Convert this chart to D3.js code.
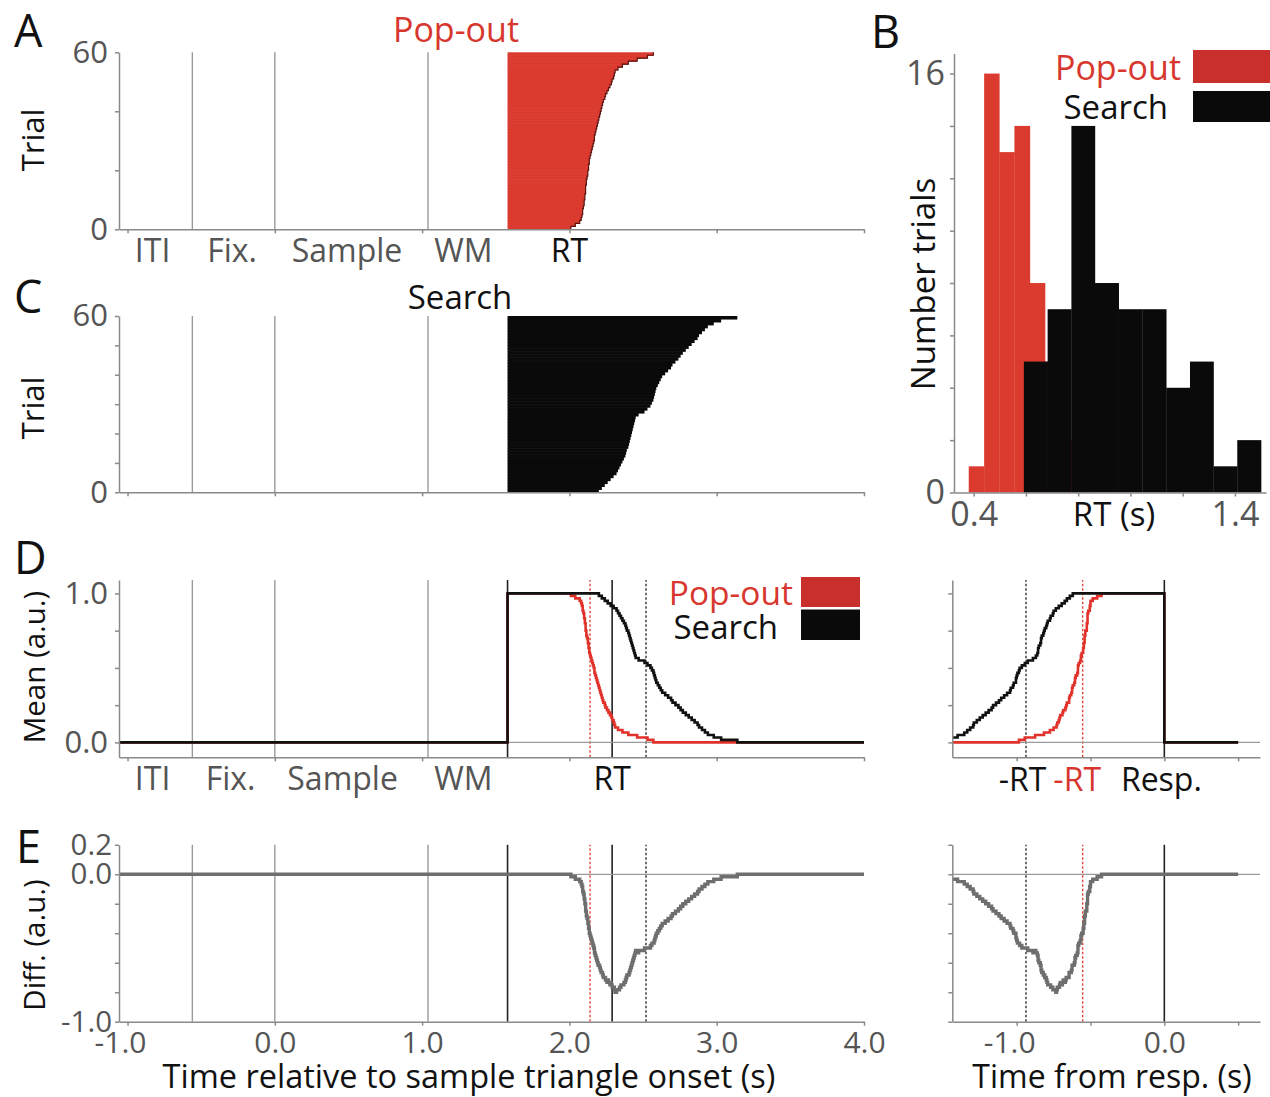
<!DOCTYPE html>
<html><head><meta charset="utf-8">
<script src="https://cdn.jsdelivr.net/npm/d3@7"></script>
<style>
body{margin:0;background:#fff}
svg{display:block}
text{font-family:'Open Sans',sans-serif}
</style>
</head><body>
<svg id="c" width="1270" height="1097"></svg>
<script>
// ---------------- DATA ----------------
// response times (s, relative to sample onset) per trial, sorted
const popEnd = [
 2.01, 2.04, 2.07, 2.08, 2.085, 2.09, 2.09, 2.095, 2.10, 2.10,
 2.105, 2.105, 2.11, 2.11, 2.11, 2.115, 2.115, 2.12, 2.125, 2.125,
 2.13, 2.13, 2.135, 2.135, 2.14, 2.145, 2.15, 2.155, 2.16, 2.165,
 2.17, 2.17, 2.175, 2.18, 2.185, 2.19, 2.195, 2.20, 2.205, 2.21,
 2.215, 2.22, 2.225, 2.23, 2.24, 2.245, 2.255, 2.265, 2.275, 2.285,
 2.29, 2.30, 2.305, 2.31, 2.33, 2.36, 2.40, 2.46, 2.53, 2.57];
const searchEnd = [
 2.20, 2.22, 2.24, 2.26, 2.28, 2.30, 2.32, 2.33, 2.34, 2.35,
 2.36, 2.37, 2.38, 2.385, 2.39, 2.40, 2.405, 2.41, 2.415, 2.42,
 2.425, 2.43, 2.435, 2.44, 2.445, 2.45, 2.47, 2.51, 2.53, 2.55,
 2.56, 2.57, 2.575, 2.58, 2.585, 2.59, 2.60, 2.61, 2.62, 2.63,
 2.65, 2.67, 2.69, 2.70, 2.72, 2.74, 2.755, 2.77, 2.79, 2.81,
 2.83, 2.85, 2.87, 2.88, 2.90, 2.92, 2.94, 2.98, 3.03, 3.14];
const targetOnset = 1.58;
const epochLines = [-0.56, 0.0, 1.04];
const epochLabels = ["ITI", "Fix.", "Sample", "WM", "RT"];
const epochLabelPosA = [-0.83, -0.29, 0.49, 1.28, 2.0];
const epochLabelPosD = [-0.83, -0.30, 0.46, 1.28, 2.29];
const medianPop = 2.14, medianAll = 2.29, medianSearch = 2.52;
const respMedianSearch = -0.937, respMedianPop = -0.553, respTime = 0.0;
const respLabels = ["-RT", "-RT", "Resp."];
const respLabelPos = [-0.96, -0.59, -0.02];
// histogram (panel B)
const popEdges = [0.381, 0.440, 0.498, 0.556, 0.615, 0.673, 0.731, 0.790, 0.848];
const popCounts = [1, 16, 13, 14, 8, 5, 2, 1];
const searchEdges = [0.592, 0.683, 0.774, 0.864, 0.955, 1.046, 1.137, 1.228, 1.318, 1.409, 1.500];
const searchCounts = [5, 7, 14, 8, 7, 7, 4, 5, 1, 2];
// ticks
const mainTicks = [-1, 0, 1, 2, 3, 4];
const mainTickLabels = ["-1.0", "0.0", "1.0", "2.0", "3.0", "4.0"];
const respTicks = [-1.0, -0.5, 0.0, 0.5];
const respTickLabels = ["-1.0", "", "0.0", ""];
const trialTicksA = [0, 20, 40, 60], trialLabelsA = ["0", "", "", "60"];
const trialTicksC = [0, 10, 20, 30, 40, 50, 60], trialLabelsC = ["0", "", "", "", "", "", "60"];
const meanTicks = [0, 0.25, 0.5, 0.75, 1.0], meanLabels = ["0.0", "", "", "", "1.0"];
const diffTicks = [-1.0, -0.8, -0.6, -0.4, -0.2, 0.0, 0.2], diffLabels = ["-1.0", "", "", "", "", "0.0", "0.2"];
const histXTicks = [0.4, 0.6, 0.8, 1.0, 1.2, 1.4], histXLabels = ["0.4", "", "", "", "", "1.4"];
const histYTicks = [0, 2, 4, 6, 8, 10, 12, 14, 16], histYLabels = ["0", "", "", "", "", "", "", "", "16"];

// ---------------- STYLE ----------------
const RED = "#db3a2f", RED_LEG = "#c9302c", RED_TXT = "#d7372e", BLACK = "#0a0a0a";
const AXIS = "#8a8a8a", GRAYLINE = "#9a9a9a", TICKTXT = "#555";
const svg = d3.select("#c");

// ---------------- SCALES ----------------
const xm = d3.scaleLinear().domain([-1.058, 4.0]).range([119, 864]);
const xr = d3.scaleLinear().domain([-1.436, 0.648]).range([952.3, 1260]);
const yA = d3.scaleLinear().domain([0, 60]).range([229.3, 52.3]);
const yC = d3.scaleLinear().domain([0, 60]).range([492.3, 316]);
const yD = d3.scaleLinear().domain([-0.1, 1.09]).range([757.3, 580]);
const yE = d3.scaleLinear().domain([-1.0, 0.2]).range([1021.7, 844.8]);
const xB = d3.scaleLinear().domain([0.3246, 1.519]).range([954, 1266]);
const yB = d3.scaleLinear().domain([0, 16.77]).range([492.5, 53.4]);

// ---------------- HELPERS ----------------
function styleAxis(g, fs) {
  g.attr("font-family", "'Open Sans',sans-serif").attr("font-size", fs);
  g.select(".domain").attr("stroke", AXIS).attr("stroke-width", 1.5);
  g.selectAll(".tick line").attr("stroke", AXIS).attr("stroke-width", 1.5);
  g.selectAll(".tick text").attr("fill", TICKTXT);
}
function leftAxis(scale, x, ticks, labels, pad, fs) {
  const g = svg.append("g").attr("transform", `translate(${x},0)`)
    .call(d3.axisLeft(scale).tickValues(ticks).tickSize(4).tickSizeOuter(0).tickPadding(pad)
      .tickFormat((d, i) => labels[i]));
  styleAxis(g, fs);
  return g;
}
function bottomAxis(scale, y, ticks, labels, pad, fs) {
  const g = svg.append("g").attr("transform", `translate(0,${y})`)
    .call(d3.axisBottom(scale).tickValues(ticks).tickSize(4).tickSizeOuter(0).tickPadding(pad)
      .tickFormat((d, i) => labels[i]));
  styleAxis(g, fs);
  g.selectAll(".tick text").filter(function () { return this.textContent.startsWith("-"); })
    .attr("dx", "-0.25em");
  return g;
}
function vline(xs, t, ys, color, w, dash) {
  const r = ys.range();
  const l = svg.append("line").attr("x1", xs(t)).attr("x2", xs(t))
    .attr("y1", r[0]).attr("y2", r[1]).attr("stroke", color).attr("stroke-width", w);
  if (dash) l.attr("stroke-dasharray", dash);
}
function hline(xs, ys, v, color, w) {
  const r = xs.range();
  svg.append("line").attr("x1", r[0]).attr("x2", r[1]).attr("y1", ys(v)).attr("y2", ys(v))
    .attr("stroke", color).attr("stroke-width", w);
}
function text(x, y, s, opt = {}) {
  return svg.append("text").attr("x", x).attr("y", y).text(s)
    .attr("font-size", opt.fs || 32).attr("fill", opt.fill || "#111")
    .attr("text-anchor", opt.anchor || "start");
}
function vtext(x, y, s, fs) {
  svg.append("text").attr("transform", `translate(${x},${y}) rotate(-90)`)
    .attr("text-anchor", "middle").attr("font-size", fs).attr("fill", "#111").text(s);
}

// ---------------- PANEL A / C: rasters ----------------
function raster(ends, ys, fill, edge) {
  const g = svg.append("g");
  g.selectAll("rect").data(ends).join("rect")
    .attr("x", xm(targetOnset))
    .attr("width", d => xm(d) - xm(targetOnset))
    .attr("y", (d, i) => ys(i + 1))
    .attr("height", (d, i) => ys(i) - ys(i + 1) + 0.6)
    .attr("fill", fill);
  if (edge) {
    const pts = [];
    ends.forEach((e, i) => { pts.push([e, i]); pts.push([e, i + 1]); });
    g.append("path").attr("d", d3.line().x(d => xm(d[0])).y(d => ys(d[1]))(pts))
      .attr("fill", "none").attr("stroke", edge).attr("stroke-width", 1.2);
  }
}
[yA, yC].forEach(ys => epochLines.forEach(t => vline(xm, t, ys, GRAYLINE, 1.4)));
raster(popEnd, yA, RED, "#5a1410");
raster(searchEnd, yC, BLACK, null);
leftAxis(yA, 119, trialTicksA, trialLabelsA, 7, 31);
bottomAxis(xm, 229.3, mainTicks, mainTicks.map(() => ""), 7, 31);
leftAxis(yC, 119, trialTicksC, trialLabelsC, 7, 31);
bottomAxis(xm, 492.3, mainTicks, mainTicks.map(() => ""), 7, 31);
text(456, 42, "Pop-out", { fs: 34, fill: RED_TXT, anchor: "middle" });
text(460, 309, "Search", { fs: 33, fill: "#111", anchor: "middle" });
epochLabels.forEach((s, i) => text(xm(epochLabelPosA[i]), 262, s,
  { fs: 32, fill: i === 4 ? "#111" : TICKTXT, anchor: "middle" }));
vtext(43.5, 140, "Trial", 31);
vtext(43.5, 408, "Trial", 31);

// ---------------- PANEL B: histogram ----------------
svg.append("g").selectAll("rect").data(popCounts).join("rect")
  .attr("x", (d, i) => xB(popEdges[i])).attr("width", (d, i) => xB(popEdges[i + 1]) - xB(popEdges[i]) + 0.3)
  .attr("y", d => yB(d)).attr("height", d => yB(0) - yB(d)).attr("fill", RED);
svg.append("g").selectAll("rect").data(searchCounts).join("rect")
  .attr("x", (d, i) => xB(searchEdges[i])).attr("width", (d, i) => xB(searchEdges[i + 1]) - xB(searchEdges[i]) + 0.3)
  .attr("y", d => yB(d)).attr("height", d => yB(0) - yB(d)).attr("fill", BLACK);
leftAxis(yB, 954, histYTicks, histYLabels, 5, 34);
bottomAxis(xB, 492.5, histXTicks, histXLabels, 5, 34);
text(1114, 526, "RT (s)", { fs: 33, anchor: "middle" });
vtext(935, 284, "Number trials", 33);
text(1181, 80, "Pop-out", { fs: 34, fill: RED_TXT, anchor: "end" });
text(1168, 119, "Search", { fs: 33, anchor: "end" });
svg.append("rect").attr("x", 1193).attr("y", 50).attr("width", 77).attr("height", 33).attr("fill", RED_LEG);
svg.append("rect").attr("x", 1193).attr("y", 91).attr("width", 77).attr("height", 31).attr("fill", BLACK);

// ---------------- PANEL D / E: means & difference ----------------
const gridMain = d3.range(-1055, 4001, 5).map(v => v / 1000);
const gridResp = d3.range(-1435, 501, 5).map(v => v / 1000);
const activeStim = (ends, t) => d3.mean(ends, e => (t >= targetOnset && t < e) ? 1 : 0);
const activeResp = (ends, t) => d3.mean(ends, e => (t >= -(e - targetOnset) && t < 0) ? 1 : 0);
const popMainCurve = gridMain.map(t => [t, activeStim(popEnd, t)]);
const searchMainCurve = gridMain.map(t => [t, activeStim(searchEnd, t)]);
const popRespCurve = gridResp.map(t => [t, activeResp(popEnd, t)]);
const searchRespCurve = gridResp.map(t => [t, activeResp(searchEnd, t)]);
const diffMain = popMainCurve.map((d, i) => [d[0], d[1] - searchMainCurve[i][1]]);
const diffResp = popRespCurve.map((d, i) => [d[0], d[1] - searchRespCurve[i][1]]);

function curve(data, xs, ys, color, w) {
  svg.append("path").attr("d", d3.line().x(d => xs(d[0])).y(d => ys(d[1])).curve(d3.curveStepAfter)(data))
    .attr("fill", "none").attr("stroke", color).attr("stroke-width", w).attr("stroke-linejoin", "miter");
}
function mainMarkers(ys) {
  epochLines.forEach(t => vline(xm, t, ys, GRAYLINE, 1.4));
  vline(xm, targetOnset, ys, "#222", 1.6);
  vline(xm, medianAll, ys, "#222", 1.6);
  vline(xm, medianPop, ys, "#e0453a", 1.4, "2.5,2");
  vline(xm, medianSearch, ys, "#333", 1.4, "2.5,2");
}
function respMarkers(ys) {
  vline(xr, respTime, ys, "#222", 1.6);
  vline(xr, respMedianPop, ys, "#e0453a", 1.4, "2.5,2");
  vline(xr, respMedianSearch, ys, "#333", 1.4, "2.5,2");
}
// D main
mainMarkers(yD);
hline(xm, yD, 0, GRAYLINE, 1.3);
curve(popMainCurve, xm, yD, "#e0322a", 2.6);
curve(searchMainCurve, xm, yD, "#111", 2.6);
leftAxis(yD, 119, meanTicks, meanLabels, 7, 31);
bottomAxis(xm, 757.3, mainTicks, mainTicks.map(() => ""), 7, 31);
epochLabels.forEach((s, i) => text(xm(epochLabelPosD[i]), 790, s,
  { fs: 32, fill: i === 4 ? "#111" : TICKTXT, anchor: "middle" }));
// D legend
text(793, 605, "Pop-out", { fs: 33.5, fill: RED_TXT, anchor: "end" });
text(778, 639, "Search", { fs: 33, anchor: "end" });
svg.append("rect").attr("x", 801).attr("y", 577).attr("width", 59).attr("height", 30).attr("fill", RED_LEG);
svg.append("rect").attr("x", 801).attr("y", 609.5).attr("width", 59).attr("height", 30.5).attr("fill", BLACK);
// D right
respMarkers(yD);
hline(xr, yD, 0, GRAYLINE, 1.3);
curve(popRespCurve, xr, yD, "#e0322a", 2.6);
curve(searchRespCurve, xr, yD, "#111", 2.6);
leftAxis(yD, 952.3, meanTicks, meanTicks.map(() => ""), 7, 31);
bottomAxis(xr, 757.3, respTicks, respTicks.map(() => ""), 7, 31);
respLabels.forEach((s, i) => text(xr(respLabelPos[i]), 791, s,
  { fs: 32, fill: i === 1 ? RED_TXT : "#111", anchor: "middle" }));

// E main
mainMarkers(yE);
hline(xm, yE, 0, GRAYLINE, 1.3);
curve(diffMain, xm, yE, "#6e6e6e", 3.4);
leftAxis(yE, 119, diffTicks, diffLabels, 3, 29.5);
bottomAxis(xm, 1021.7, mainTicks, mainTickLabels, 6, 30);
// E right
respMarkers(yE);
hline(xr, yE, 0, GRAYLINE, 1.3);
curve(diffResp, xr, yE, "#6e6e6e", 3.4);
leftAxis(yE, 952.3, diffTicks, diffTicks.map(() => ""), 7, 31);
bottomAxis(xr, 1021.7, respTicks, respTickLabels, 6, 30);

// axis titles
vtext(45, 667, "Mean (a.u.)", 29.5);
vtext(45, 945, "Diff. (a.u.)", 29.5);
text(469, 1088, "Time relative to sample triangle onset (s)", { fs: 32.5, anchor: "middle" });
text(1112, 1088, "Time from resp. (s)", { fs: 32, anchor: "middle" });

// panel letters
text(14, 47, "A", { fs: 45 });
text(871, 48, "B", { fs: 45 });
text(14, 313, "C", { fs: 45 });
text(14, 574, "D", { fs: 45 });
text(16, 863, "E", { fs: 45 });
</script>
</body></html>
